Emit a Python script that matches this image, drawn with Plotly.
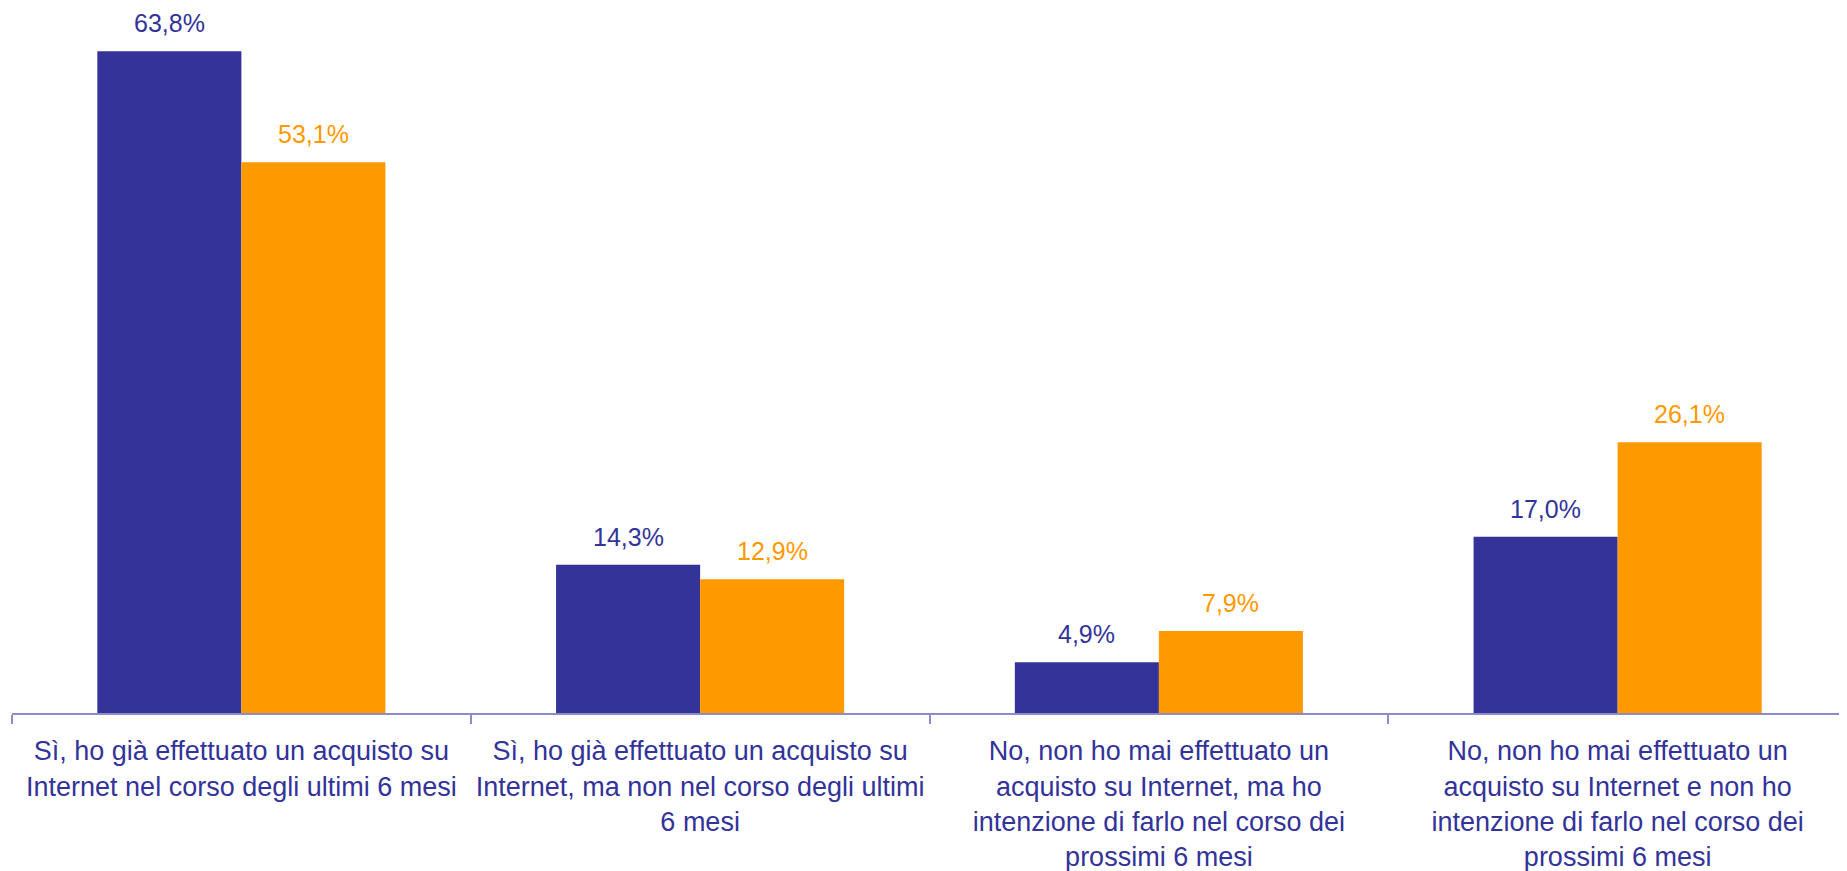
import plotly.graph_objects as go

categories = [
    "Sì, ho già effettuato un acquisto su<br>Internet nel corso degli ultimi 6 mesi",
    "Sì, ho già effettuato un acquisto su<br>Internet, ma non nel corso degli ultimi<br>6 mesi",
    "No, non ho mai effettuato un<br>acquisto su Internet, ma ho<br>intenzione di farlo nel corso dei<br>prossimi 6 mesi",
    "No, non ho mai effettuato un<br>acquisto su Internet e non ho<br>intenzione di farlo nel corso dei<br>prossimi 6 mesi",
]
series_a = [63.8, 14.3, 4.9, 17.0]
series_b = [53.1, 12.9, 7.9, 26.1]
labels_a = ["63,8%", "14,3%", "4,9%", "17,0%"]
labels_b = ["53,1%", "12,9%", "7,9%", "26,1%"]

BLUE = "#333399"
ORANGE = "#FF9900"
AXIS = "#8C8CC8"
FONT = "Liberation Sans, Arial, sans-serif"

fig = go.Figure()
fig.add_trace(go.Bar(x=categories, y=series_a, marker=dict(color=BLUE, line=dict(width=0)),
                     name="A", hoverinfo="skip"))
fig.add_trace(go.Bar(x=categories, y=series_b, marker=dict(color=ORANGE, line=dict(width=0)),
                     name="B", hoverinfo="skip"))

annotations = []
for c, v, t in zip(categories, series_a, labels_a):
    annotations.append(dict(x=c, y=v, text=t, showarrow=False, xref="x", yref="y",
                            xanchor="center", yanchor="bottom", xshift=-72, yshift=12,
                            font=dict(family=FONT, size=25, color=BLUE)))
for c, v, t in zip(categories, series_b, labels_b):
    annotations.append(dict(x=c, y=v, text=t, showarrow=False, xref="x", yref="y",
                            xanchor="center", yanchor="bottom", xshift=72, yshift=12,
                            font=dict(family=FONT, size=25, color=ORANGE)))

fig.update_layout(
    width=1839, height=863,
    margin=dict(l=4, r=0, t=11, b=158),
    paper_bgcolor="white", plot_bgcolor="white",
    showlegend=False,
    barmode="group", bargap=0.372, bargroupgap=0,
    annotations=annotations,
    font=dict(family=FONT, color=BLUE),
)
fig.update_xaxes(
    showline=True, linecolor=AXIS, linewidth=2,
    ticks="outside", tickson="boundaries", ticklen=9, tickcolor=AXIS, tickwidth=1.5,
    tickfont=dict(family=FONT, size=27, color=BLUE), ticklabelstandoff=13,
    showgrid=False, zeroline=False, tickangle=0, fixedrange=True,
)
fig.update_yaxes(visible=False, range=[0, 66.9], showgrid=False, zeroline=False, fixedrange=True)

fig.write_html("out.html", config={"displayModeBar": False})
